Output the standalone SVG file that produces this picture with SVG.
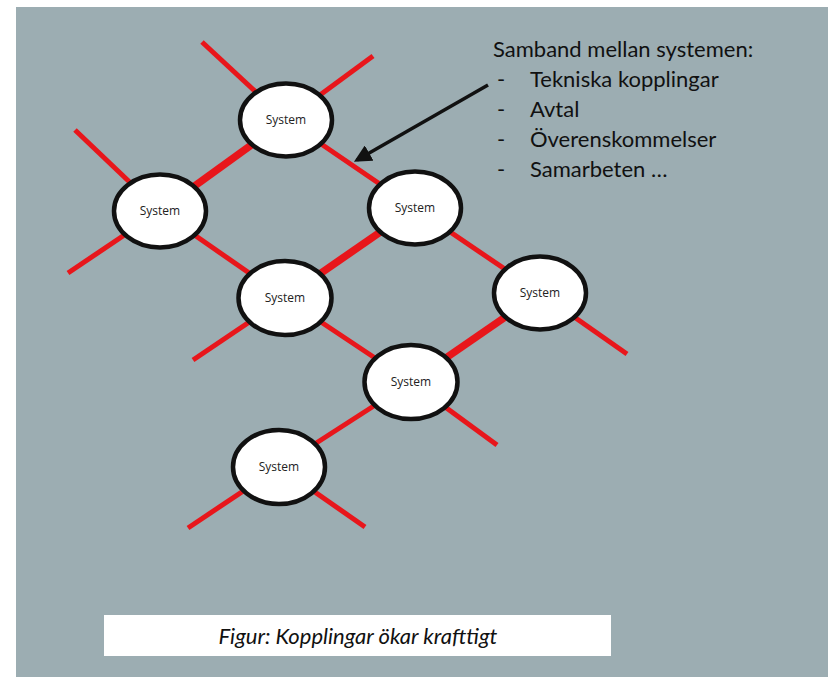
<svg xmlns="http://www.w3.org/2000/svg" width="828" height="677" viewBox="0 0 828 677">
  <defs>
    <marker id="arrowhead" viewBox="0 0 10 10" refX="8" refY="5" markerWidth="5" markerHeight="5" orient="auto" markerUnits="strokeWidth">
      <path d="M0,0 L10,5 L0,10 z" fill="#111"/>
    </marker>
    <style>
      .link { stroke: #e8161b; stroke-width: 5; stroke-linecap: butt; fill: none; }
      .link.strong { stroke-width: 7.5; }
      .node ellipse { fill: #ffffff; stroke: #111; stroke-width: 4.5; }
      .node text { font-family: "Open Sans", "DejaVu Sans", sans-serif; font-size: 12px; fill: #222; text-anchor: middle; }
      .note { font-family: "Lato", "Open Sans", sans-serif; font-size: 22px; fill: #111; }
      .caption { font-family: "Lato", "Open Sans", sans-serif; font-size: 22px; font-style: italic; fill: #111; text-anchor: middle; }
    </style>
  </defs>

  <rect x="0" y="0" width="828" height="677" fill="#ffffff"/>
  <rect x="16" y="7" width="812" height="670" fill="#9cadb2"/>

  <!-- connectors between systems and open-ended couplings -->
  <g id="connectors">
    <line class="link" x1="286" y1="120" x2="202" y2="42"/>
    <line class="link" x1="286" y1="120" x2="373" y2="56"/>
    <line class="link strong" x1="286" y1="120" x2="160" y2="211"/>
    <line class="link" x1="286" y1="120" x2="415" y2="208"/>
    <line class="link" x1="160" y1="211" x2="75" y2="130"/>
    <line class="link" x1="160" y1="211" x2="68" y2="273"/>
    <line class="link" x1="160" y1="211" x2="285" y2="298"/>
    <line class="link strong" x1="415" y1="208" x2="285" y2="298"/>
    <line class="link" x1="415" y1="208" x2="540" y2="293"/>
    <line class="link" x1="285" y1="298" x2="193" y2="360"/>
    <line class="link" x1="285" y1="298" x2="411" y2="382"/>
    <line class="link strong" x1="540" y1="293" x2="411" y2="382"/>
    <line class="link" x1="540" y1="293" x2="627" y2="354"/>
    <line class="link" x1="411" y1="382" x2="497" y2="445"/>
    <line class="link" x1="411" y1="382" x2="279" y2="467"/>
    <line class="link" x1="279" y1="467" x2="188" y2="528"/>
    <line class="link" x1="279" y1="467" x2="365" y2="527"/>
    <line x1="488" y1="85" x2="357" y2="160" stroke="#111" stroke-width="3.5" marker-end="url(#arrowhead)"/>
  </g>

  <g id="system-a" class="node">
    <ellipse cx="286" cy="120" rx="46" ry="36.5"/>
    <text x="286" y="124">System</text>
  </g>
  <g id="system-b" class="node">
    <ellipse cx="160" cy="211" rx="46" ry="36.5"/>
    <text x="160" y="215">System</text>
  </g>
  <g id="system-c" class="node">
    <ellipse cx="415" cy="208" rx="46" ry="36.5"/>
    <text x="415" y="212">System</text>
  </g>
  <g id="system-d" class="node">
    <ellipse cx="285" cy="298" rx="46.5" ry="37"/>
    <text x="285" y="302">System</text>
  </g>
  <g id="system-e" class="node">
    <ellipse cx="540" cy="293" rx="46" ry="36.5"/>
    <text x="540" y="297">System</text>
  </g>
  <g id="system-f" class="node">
    <ellipse cx="411" cy="382" rx="46.5" ry="37"/>
    <text x="411" y="386">System</text>
  </g>
  <g id="system-g" class="node">
    <ellipse cx="279" cy="467" rx="46" ry="37"/>
    <text x="279" y="471">System</text>
  </g>

  <g id="relations-note" class="note">
    <text x="493" y="57">Samband mellan systemen:</text>
    <text x="497" y="87">-</text><text x="530" y="87">Tekniska kopplingar</text>
    <text x="497" y="117">-</text><text x="530" y="117">Avtal</text>
    <text x="497" y="147">-</text><text x="530" y="147">Överenskommelser</text>
    <text x="497" y="177">-</text><text x="530" y="177">Samarbeten …</text>
  </g>

  <g id="caption">
    <rect x="104" y="615" width="507" height="41" fill="#ffffff"/>
    <text class="caption" x="358" y="644">Figur: Kopplingar ökar krafttigt</text>
  </g>
</svg>
